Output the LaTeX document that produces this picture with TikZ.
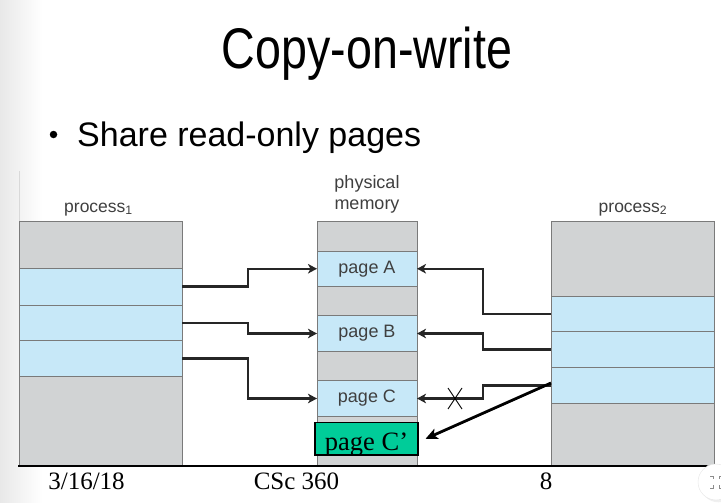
\documentclass[tikz,border=0pt]{standalone}
\usepackage{fontspec}
\setmainfont{Liberation Serif}
\newfontfamily\arialf{Liberation Sans}
\usetikzlibrary{arrows.meta,shadows}
\definecolor{memgray}{HTML}{D1D3D4}
\definecolor{memblue}{HTML}{C7E8F8}
\definecolor{bordergray}{HTML}{7A7A7A}
\definecolor{conncol}{HTML}{262626}
\definecolor{copygreen}{HTML}{00CC99}
\definecolor{labelcol}{HTML}{3F3F3F}
\begin{document}
\begin{tikzpicture}[x=1pt,y=-1pt,
  cellbase/.style={draw=bordergray, line width=1pt, inner sep=0pt, outer sep=0pt},
  gcell/.style={cellbase, fill=memgray},
  bcell/.style={cellbase, fill=memblue, font=\arialf\fontsize{18}{20}\selectfont, text=labelcol},
  conn/.style={draw=conncol, line width=2.1pt, -{Stealth[length=9pt,width=9.5pt,inset=2.5pt]}},
  copyarrow/.style={draw=black, line width=2.8pt, -{Stealth[length=12pt,width=11pt,inset=3pt]}},
  boxlabel/.style={font=\arialf\fontsize{17.5}{21}\selectfont, text=labelcol, inner sep=0pt},
  footer/.style={font=\fontsize{25}{28}\selectfont, anchor=base, inner sep=0pt}
]
\useasboundingbox (0,0) rectangle (721,503);
\shade[left color=black!9, right color=white] (0,0) rectangle (42,503);
\draw[black!15, line width=0.8pt] (19.5,171) -- (19.5,221);

% title and bullet
\node[anchor=base, inner sep=0pt] (title) at (367,68.5)
  {\arialf\fontsize{46.6}{50}\selectfont\scalebox{1}[1.23]{Copy-on-write}};
\node[circle, fill=black, inner sep=0pt, minimum size=7.5pt] (dot) at (53.5,134.5) {};
\node[anchor=base west, inner sep=0pt] (bullet) at (77,146.7)
  {\arialf\fontsize{34}{38}\selectfont Share read-only pages};

% process 1
\node[gcell, minimum width=163pt, minimum height=47pt]   (p1top) at (100.5,244.5) {};
\node[bcell, minimum width=163pt, minimum height=37pt]   (p1a)   at (100.5,286.5) {};
\node[bcell, minimum width=163pt, minimum height=35.5pt] (p1b)   at (100.5,322.75) {};
\node[bcell, minimum width=163pt, minimum height=36pt]   (p1c)   at (100.5,358.5) {};
\node[gcell, minimum width=163pt, minimum height=89pt]   (p1bot) at (100.5,421) {};
\node[boxlabel, anchor=base] (p1lab) at (98.5,212) {process\textsubscript{1}};

% physical memory
\node[gcell, minimum width=100pt, minimum height=30pt]   (m0) at (367,236) {};
\node[bcell, minimum width=100pt, minimum height=35.5pt] (mA) at (367,268.75) {page A};
\node[gcell, minimum width=100pt, minimum height=29pt]   (m1) at (367,301) {};
\node[bcell, minimum width=100pt, minimum height=36pt]   (mB) at (367,333.5) {page B};
\node[gcell, minimum width=100pt, minimum height=29pt]   (m2) at (367,366) {};
\node[bcell, minimum width=100pt, minimum height=36pt]   (mC) at (367,398.5) {page C};
\node[gcell, minimum width=100pt, minimum height=49pt]   (m3) at (367,441) {};
\node[draw=black, line width=1.2pt, fill=copygreen, inner sep=0pt, minimum width=103pt, minimum height=32.5pt] (cp) at (366.5,438.75) {};
\node[anchor=base, inner sep=0pt, font=\fontsize{26.5}{28}\selectfont] (cplab) at (366.5,450.5) {page C’};
\node[boxlabel, align=center, anchor=base, font=\arialf\fontsize{18}{21}\selectfont] (memlab) at (367,209.5) {physical\\memory};

% process 2
\node[gcell, minimum width=163pt, minimum height=75pt]   (p2top) at (632.5,258.5) {};
\node[bcell, minimum width=163pt, minimum height=35.5pt] (p2a)   at (632.5,313.75) {};
\node[bcell, minimum width=163pt, minimum height=36pt]   (p2b)   at (632.5,349.5) {};
\node[bcell, minimum width=163pt, minimum height=36pt]   (p2c)   at (632.5,385.5) {};
\node[gcell, minimum width=163pt, minimum height=62pt]   (p2bot) at (632.5,434.5) {};
\node[boxlabel, anchor=base] (p2lab) at (633,212) {process\textsubscript{2}};

% baseline rule
\draw[black, line width=1.6pt] (18,466) -- (707,466);

% connectors from process 1
\draw[conn] (p1a.east) -- ++(66,0) |- (mA.west);
\draw[conn] (p1b.east) -- ++(66,0) |- (mB.west);
\draw[conn] (p1c.east) -- ++(66,0) |- (mC.west);

% connectors from process 2
\draw[conn] (p2a.west) -- ++(-68,0) |- (mA.east);
\draw[conn] (p2b.west) -- ++(-68,0) |- (mB.east);
\draw[conn] (p2c.west) -- ++(-68,0) |- (mC.east);

% broken link cross
\coordinate (xc) at (455,398.5);
\draw[black, line width=0.9pt] ([shift={(-7,-10.5)}]xc) -- ([shift={(7,10.5)}]xc);
\draw[black, line width=0.9pt] ([shift={(-7,10.5)}]xc) -- ([shift={(7,-10.5)}]xc);

% copy arrow
\coordinate (tipc) at ([xshift=7pt]cp.east);
\draw[copyarrow] ([yshift=2.5pt]p2c.west) -- (tipc);

% footer
\node[footer] (date) at (86.5,489) {3/16/18};
\node[footer] (course) at (296.5,489) {CSc 360};
\node[footer] (pageno) at (546,489) {8};

% corner widget
\node[circle, fill=white, draw=black!10, drop shadow={opacity=0.12}, minimum size=36pt, inner sep=0pt] (widget) at (716,482) {};
\draw[black!45, line width=0.9pt] (710,476) -- (713,476) -- (713,479);
\draw[black!45, line width=0.9pt] (722,476) -- (719,476) -- (719,479);
\draw[black!45, line width=0.9pt] (710,488) -- (713,488) -- (713,485);
\draw[black!45, line width=0.9pt] (722,488) -- (719,488) -- (719,485);
\end{tikzpicture}
\end{document}
